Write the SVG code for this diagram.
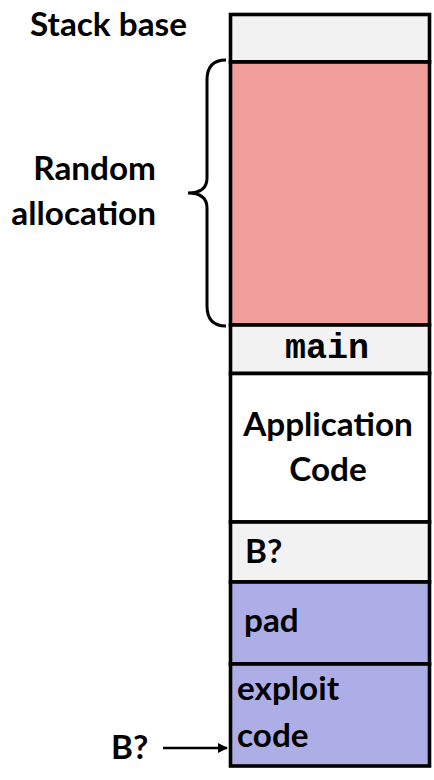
<svg xmlns="http://www.w3.org/2000/svg" width="434" height="780" viewBox="0 0 434 780">
<defs>
<style>
.box{stroke:#000;stroke-width:3.6}
.t{font-family:Lato,"Liberation Sans",Arial,sans-serif;font-weight:bold;font-size:33.3px;fill:#000}
.m{font-family:"Liberation Mono","Courier New",monospace;font-weight:bold;font-size:35px;fill:#000}
.gray{fill:#f2f2f2}
.red{fill:#f29e9c}
.blue{fill:#aeaee6}
.white{fill:#fff}
</style>
<marker id="ah" markerWidth="10" markerHeight="10" refX="9" refY="5" orient="auto" markerUnits="userSpaceOnUse">
<path d="M0,0 L10,5 L0,10 Z" fill="#000"/>
</marker>
</defs>
<rect width="434" height="780" fill="#fff"/>
<text class="t" x="30" y="36">Stack base</text>
<text class="t" x="156" y="180" text-anchor="end">Random</text>
<text class="t" x="156" y="225" text-anchor="end">allocation</text>
<g id="stackbase"><rect class="box gray" x="230.5" y="14.5" width="199" height="47.5"/></g>
<g id="random"><rect class="box red" x="230.5" y="62" width="199" height="263"/></g>
<g id="main"><rect class="box gray" x="230.5" y="325" width="199" height="48.5"/><text class="m" x="327" y="358" text-anchor="middle">main</text></g>
<g id="app"><rect class="box white" x="230.5" y="373.5" width="199" height="148.5"/><text class="t" x="328" y="436" text-anchor="middle">Application</text><text class="t" x="328" y="481" text-anchor="middle">Code</text></g>
<g id="b"><rect class="box gray" x="230.5" y="522" width="199" height="60"/><text class="t" x="245" y="563">B?</text></g>
<g id="pad"><rect class="box blue" x="230.5" y="582" width="199" height="82"/><text class="t" x="244" y="632">pad</text></g>
<g id="exploit"><rect class="box blue" x="230.5" y="664" width="199" height="102"/><text class="t" x="237" y="700">exploit</text><text class="t" x="237" y="747">code</text></g>
<g id="brace"><path d="M226,60 Q207,60 207,80 L207,178 Q207,193 188,193 Q207,193 207,208 L207,306 Q207,326 226,326" fill="none" stroke="#000" stroke-width="3"/></g>
<g id="connectors">
<text class="t" x="111" y="759">B?</text>
<line x1="163" y1="748" x2="227" y2="748" stroke="#000" stroke-width="2.5" marker-end="url(#ah)"/>
</g>
</svg>
